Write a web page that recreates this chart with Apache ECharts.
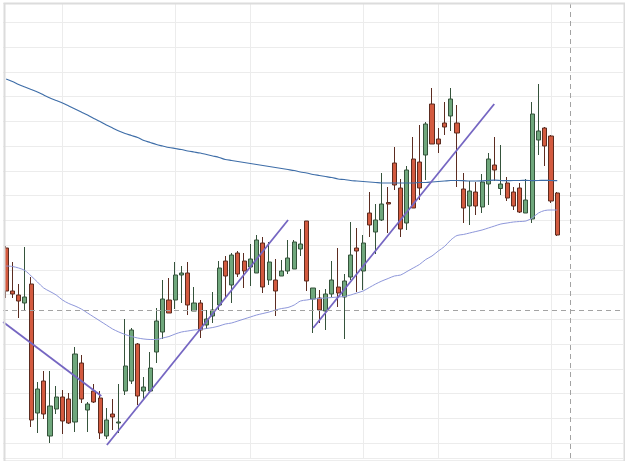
<!DOCTYPE html>
<html>
<head>
<meta charset="utf-8">
<script src="https://cdn.jsdelivr.net/npm/echarts@6/dist/echarts.min.js"></script>
<style>
html,body{margin:0;padding:0;background:#fff;}
#chart{width:625px;height:461px;}
</style>
</head>
<body>
<div id="chart"></div>
<script>
// ---- data (price units) ----
const categories = Array.from({length: 99}, (_, i) => 'P' + (i + 1));

// [open, close, low, high]
const candles = [
  [220,177,170,222],[177,174,170,206],[173,167,150,184],[165,171,158,221],[184,48,41,191],
  [55,79,35,86],[87,54,49,97],[32,62,25,97],[59,71,54,82],[71,47,34,78],
  [69,45,44,75],[46,114,36,121],[105,69,65,113],[58,64,36,66],[77,66,65,84],
  [70,35,29,77],[32,48,29,60],[54,51,38,69],[45,46,35,84],[77,102,73,149],
  [87,138,84,140],[124,72,63,125],[77,81,68,91],[77,100,75,116],[116,147,105,160],
  [136,169,129,188],[168,155,155,190],[168,193,159,206],[193,195,165,202],[195,163,153,206],
  [157,165,157,181],[165,138,130,168],[143,149,139,158],[152,158,145,176],[163,200,158,207],
  [207,192,170,212],[183,213,165,215],[215,194,191,217],[207,197,180,215],[201,209,182,224],
  [195,228,195,233],[225,181,175,231],[188,206,183,226],[188,177,152,209],[192,197,192,208],
  [197,210,194,228],[199,226,199,228],[219,224,212,239],[247,187,177,247],[169,180,135,180],
  [170,158,145,178],[157,174,138,179],[174,188,171,207],[181,175,161,220],[171,187,129,194],
  [191,213,188,246],[220,217,176,240],[197,225,178,233],[255,243,231,276],[236,248,214,264],
  [248,264,247,295],[265.5,264,235,281],[305,283,278,321],[280,239,231,289],[245,298,238,302],
  [309,260,260,331],[306,280,268,343],[313,344,288,346],[364,324,324,380],[329,324,315,340],
  [345,341,333,366],[352,369,337,380],[345,335,281,363],[279,260,245,295],[262,277,243,287],
  [276,262,253,286],[261,286,255,294],[284,309,263,315],[303,298,287,331],[279.5,284,273,323],
  [285,270,267,291],[276,262,258,281],[280,256,255,285],[255,268,255,289],[249,354,245,366],
  [328,337,313,384],[340,322,302,341],[332,267,265,333],[275,233,232,276]
];

const maSlow = [
  389,386.5,383.5,381,378.5,376,373,370,367.5,365,
  362,359,356,353,349.5,346.5,343,340,337,334.5,
  332.5,330.5,327.5,325.5,323.5,322,320.5,319.5,318.5,317,
  316,315,313.5,312,310.5,308.5,307.5,306.5,305.5,304.5,
  303.5,302.5,301.5,300.5,299.5,298.5,297.5,296,295,293.5,
  292.5,291.5,290.5,289,288.5,287.5,287,286.5,286,285.5,
  285,285,285,285,285,285,285.5,285.5,286,286.5,
  287,287.5,287.5,287.3,287,287,287.2,287.5,287.8,287.5,
  287.3,287.5,287.5,287.6,287.4,287.5,287.7,287.5,287.3
];

const maFast = [
  202,201.5,200,197.5,192,186,180,176.5,173,168,
  164.5,162,159,155,151,147,143,139,136,133.5,
  131.5,130,129,128.5,128.5,130,131.5,134,136,137,
  138,138.5,139.5,140.5,142,144,145,147,149,151,
  153,154.5,156,158,159.5,160.5,163,167,168,169,
  169.5,170,170.5,171,171.5,173,175,177,180.5,184,
  187,189.5,192,193,196.5,200,203.5,208.5,212,217,
  221.5,228,232.5,233.5,235,236.5,238,240,242,244,
  245,246,246.5,247,250,255,257.5,258,258
];

// trend lines: [categoryPosition, price]
const trendDown1 = [[-0.48,146],[15.2,72]];
const trendUp1 = [[16.09,23],[45.02,248]];
const trendUp2 = [[49.02,140],[77.94,364]];

const priceMin = 10, priceMax = 465;
const gridStep = 24.76;          // price distance between horizontal gridlines
const gridCols = [9,27,39,57,69,87];
const crossX = 90;
const crossY = 158;

const chart = echarts.init(document.getElementById('chart'), null, {renderer:'canvas'});

const trendStyle = {color:'#7566c2', width:1.8};
function trendSeries(d){
  return {type:'line', xAxisIndex:1, yAxisIndex:0, data:d, symbol:'none',
    lineStyle:trendStyle, silent:true, z:4};
}

chart.setOption({
  animation:false,
  backgroundColor:'#ffffff',
  grid:{left:3, right:2, top:3, bottom:3, containLabel:false},
  xAxis:[
    {type:'category', data:categories, boundaryGap:true,
     axisLine:{show:false}, axisTick:{show:false, alignWithLabel:true}, axisLabel:{show:false},
     splitLine:{show:true, alignWithLabel:true, interval:(i)=>gridCols.includes(i),
       lineStyle:{color:'#ececec', width:1}}},
    {type:'value', min:-0.5, max:98.5, show:false}
  ],
  yAxis:[
    {type:'value', min:priceMin, max:priceMax,
     axisLine:{show:false}, axisTick:{show:false}, axisLabel:{show:false},
     splitLine:{show:false}},
    // helper axis only for horizontal gridlines, in gridline units (10 per step)
    {type:'value', min:priceMin / gridStep * 10, max:priceMax / gridStep * 10,
     splitNumber:18, minInterval:10, maxInterval:10, position:'left',
     axisLine:{show:false}, axisTick:{show:false}, axisLabel:{show:false},
     splitLine:{show:true, lineStyle:{color:'#ececec', width:1}}}
  ],
  series:[
    {type:'candlestick', data:candles, barWidth:4.6, z:2,
     itemStyle:{color:'#6fa77c', color0:'#d35a3f', borderColor:'#35533b', borderColor0:'#5c2c20', borderWidth:1}},
    {type:'line', data:maSlow, symbol:'none', smooth:0.3, z:3,
     lineStyle:{color:'#3f6ea8', width:1.2}},
    {type:'line', data:maFast, symbol:'none', smooth:0.3, z:3,
     lineStyle:{color:'#8e97da', width:1}},
    trendSeries(trendDown1),
    trendSeries(trendUp1),
    Object.assign(trendSeries(trendUp2), {
      markLine:{silent:true, symbol:['none','none'], label:{show:false},
        lineStyle:{type:[5,4], color:'#a3a3a3', width:1},
        data:[{xAxis:crossX},{yAxis:crossY}]}
    })
  ],
  graphic:[
    {type:'rect', left:2, top:1, silent:true, z:100,
     shape:{width:620, height:458},
     style:{fill:'none', stroke:'#dcdcdc', lineWidth:2}}
  ]
});
</script>
</body>
</html>
